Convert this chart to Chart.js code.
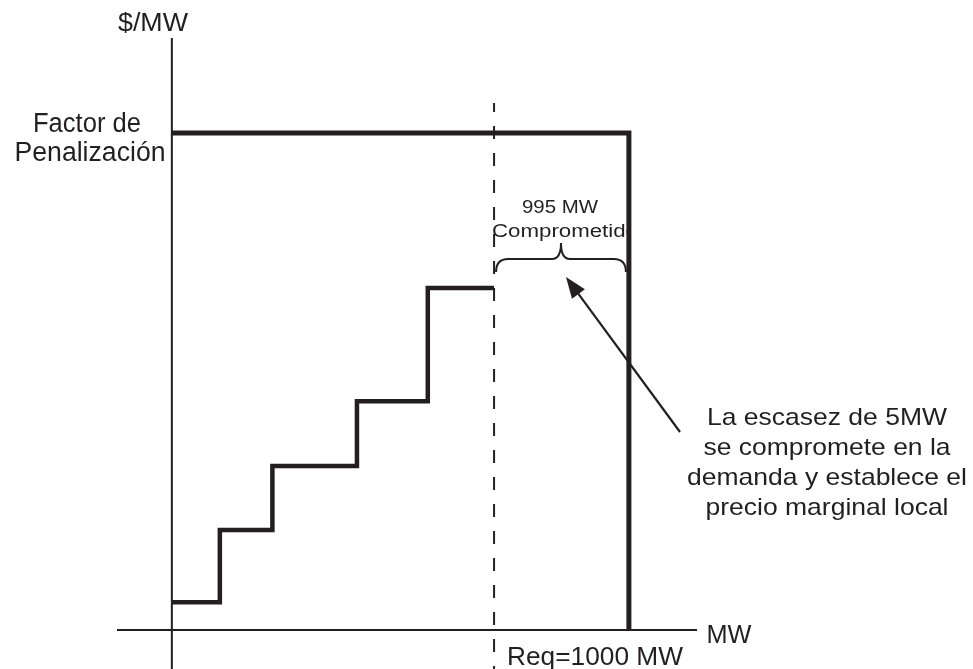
<!DOCTYPE html>
<html>
<head>
<meta charset="utf-8">
<script src="https://cdn.jsdelivr.net/npm/chart.js@4.4.1/dist/chart.umd.min.js"></script>
<style>
  html, body { margin: 0; padding: 0; background: #fff; }
  #wrap { width: 973px; height: 669px; position: relative; }
</style>
</head>
<body>
<div id="wrap"><canvas id="offerChart"></canvas></div>
<script>
// Supply offer steps (MW position, price level) - schematic units
const stepX = [0, 10.5, 22, 40.5, 56, 70.5];
const stepY = [5.6, 20.1, 33, 46, 68.8];

// Penalty price and requirement
const penaltyLevel = 100;
const reqX = 100;
const committedX = 70.5;

// Axis extents
const xMin = -12, xMax = 114.9;
const yMin = -7.85, yMax = 119.1;

// Build the staircase points
const stepPoints = [];
for (let i = 0; i < stepY.length; i++) {
    stepPoints.push({ x: stepX[i], y: stepY[i] });
    stepPoints.push({ x: stepX[i + 1], y: stepY[i] });
}

const penaltyPoints = [
    { x: 0, y: penaltyLevel },
    { x: reqX, y: penaltyLevel },
    { x: reqX, y: 0 }
];

const font = '"Liberation Sans", Arial, sans-serif';

// draws text centred on cx, stretched to a given width
function fitText(ctx, text, cx, baseline, size, width) {
    ctx.font = size + 'px ' + font;
    const w = ctx.measureText(text).width;
    ctx.save();
    ctx.translate(cx, baseline);
    ctx.scale(width / w, 1);
    ctx.textAlign = 'center';
    ctx.textBaseline = 'alphabetic';
    ctx.fillText(text, 0, 0);
    ctx.restore();
}

// Axes, labels, brace and arrow drawn over the chart
const annotations = {
    id: 'annotations',
    afterDatasetsDraw(chart) {
        const ctx = chart.ctx;
        const xs = chart.scales.x;
        const px = v => xs.getPixelForValue(v);

        ctx.save();
        ctx.fillStyle = '#231f20';
        ctx.strokeStyle = '#231f20';

        // brace over the committed block
        const bx1 = px(committedX) + 2, bx2 = px(reqX) - 3;
        const by = 259, bm = (bx1 + bx2) / 2;
        ctx.lineWidth = 2;
        ctx.beginPath();
        ctx.moveTo(bx1, by + 13);
        ctx.quadraticCurveTo(bx1, by, bx1 + 12, by);
        ctx.lineTo(bm - 9, by);
        ctx.quadraticCurveTo(bm, by, bm, by - 16);
        ctx.quadraticCurveTo(bm, by, bm + 9, by);
        ctx.lineTo(bx2 - 12, by);
        ctx.quadraticCurveTo(bx2, by, bx2, by + 13);
        ctx.stroke();

        // arrow pointing at the brace
        const tx = 680, ty = 432, hx = 566, hy = 277;
        const ang = Math.atan2(hy - ty, hx - tx);
        ctx.lineWidth = 2.2;
        ctx.beginPath();
        ctx.moveTo(tx, ty);
        ctx.lineTo(hx - 12 * Math.cos(ang), hy - 12 * Math.sin(ang));
        ctx.stroke();
        ctx.beginPath();
        ctx.moveTo(hx, hy);
        ctx.lineTo(hx - 21 * Math.cos(ang) + 8 * Math.sin(ang), hy - 21 * Math.sin(ang) - 8 * Math.cos(ang));
        ctx.lineTo(hx - 21 * Math.cos(ang) - 8 * Math.sin(ang), hy - 21 * Math.sin(ang) + 8 * Math.cos(ang));
        ctx.closePath();
        ctx.fill();

        // axis and level labels
        fitText(ctx, '$/MW', 153, 31, 25, 70);
        fitText(ctx, 'Factor de', 87, 132, 27, 108);
        fitText(ctx, 'Penalización', 90, 161, 27, 151);
        fitText(ctx, 'MW', 729, 643, 26, 45);
        fitText(ctx, 'Req=1000 MW', 595, 665, 25, 176);

        // brace label, hidden behind the requirement line
        fitText(ctx, '995 MW', 560, 213, 18, 76);
        ctx.save();
        ctx.beginPath();
        ctx.rect(0, 0, px(reqX) - 2, 669);
        ctx.clip();
        fitText(ctx, 'Comprometido', 565, 237, 18, 146);
        ctx.restore();

        // explanatory note
        const note = ['La escasez de 5MW', 'se compromete en la', 'demanda y establece el', 'precio marginal local'];
        const noteW = [240, 247, 280, 243];
        note.forEach((line, i) => fitText(ctx, line, 827, 425 + i * 30, 24, noteW[i]));
        ctx.restore();
    }
};

new Chart(document.getElementById('offerChart'), {
    type: 'scatter',
    data: {
        datasets: [
            {
                label: 'x axis',
                data: [{ x: xMin, y: 0 }, { x: xMax, y: 0 }],
                showLine: true, borderColor: '#231f20', borderWidth: 2, pointRadius: 0
            },
            {
                label: 'y axis',
                data: [{ x: 0, y: yMin }, { x: 0, y: yMax }],
                showLine: true, borderColor: '#231f20', borderWidth: 2, pointRadius: 0
            },
            {
                label: 'Committed',
                data: [{ x: committedX, y: yMin }, { x: committedX, y: 106 }],
                showLine: true, borderColor: '#231f20', borderWidth: 2, borderDash: [13, 14],
                borderDashOffset: 10, pointRadius: 0
            },
            {
                label: 'Penalty',
                data: penaltyPoints,
                showLine: true, borderColor: '#231f20', borderWidth: 5, pointRadius: 0,
                borderJoinStyle: 'miter'
            },
            {
                label: 'Offers',
                data: stepPoints,
                showLine: true, borderColor: '#231f20', borderWidth: 4.5, pointRadius: 0,
                borderJoinStyle: 'miter'
            }
        ]
    },
    options: {
        responsive: true,
        maintainAspectRatio: false,
        animation: false,
        layout: { padding: { left: 117, right: 276, top: 38, bottom: 0 } },
        plugins: { legend: { display: false }, tooltip: { enabled: false } },
        scales: {
            x: { type: 'linear', min: xMin, max: xMax, display: false },
            y: { type: 'linear', min: yMin, max: yMax, display: false }
        }
    },
    plugins: [annotations]
});
</script>
</body>
</html>
